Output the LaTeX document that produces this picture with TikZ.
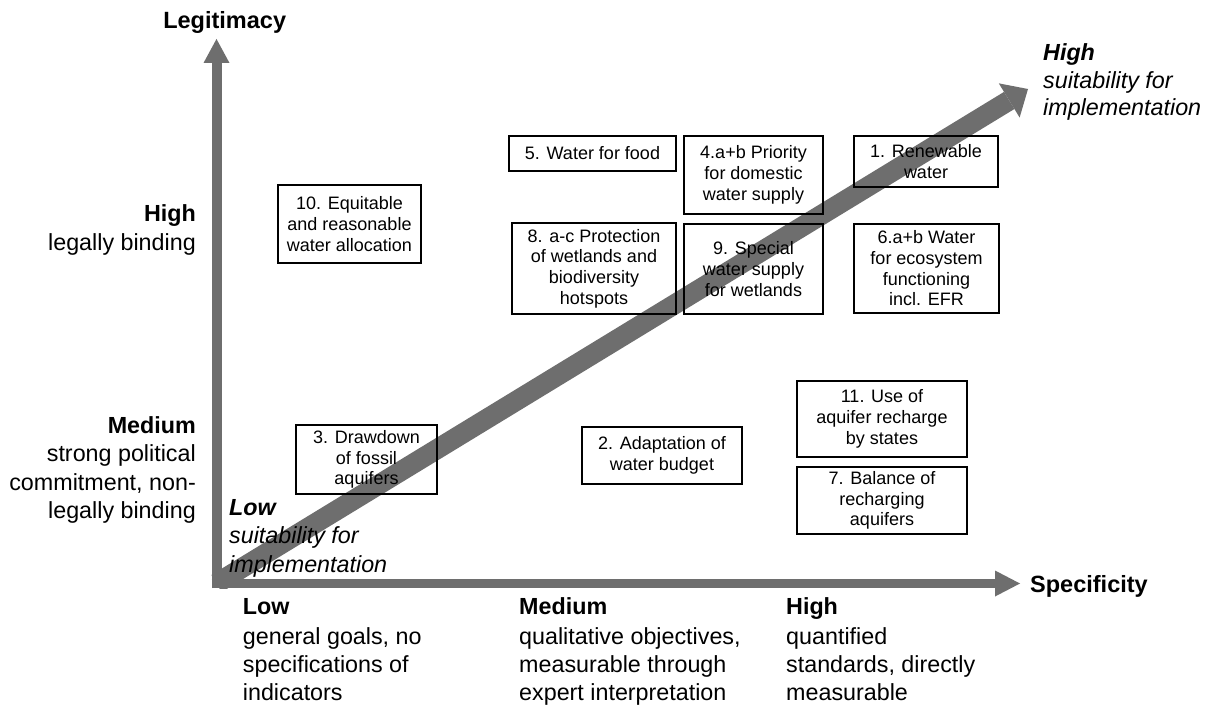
\documentclass[tikz,border=0pt]{standalone}
\usepackage{fontspec}
\setmainfont{Liberation Sans}
\usetikzlibrary{arrows.meta}
\definecolor{axgray}{RGB}{110,110,110}
\begin{document}
\begin{tikzpicture}[x=1pt,y=-1pt,
  lab/.style={inner sep=0pt, font=\fontsize{23.3}{28}\selectfont},
  labB/.style={inner sep=0pt, font=\fontsize{23.3}{28}\selectfont\bfseries},
  labI/.style={inner sep=0pt, font=\fontsize{23.3}{28}\selectfont\itshape},
  labBI/.style={inner sep=0pt, font=\fontsize{23.3}{28}\selectfont\bfseries\itshape},
  title/.style={inner sep=0pt, font=\fontsize{23.5}{28}\selectfont\bfseries},
  box/.style={draw=black, line width=1.4pt, inner sep=0pt, align=center,
    font=\fontsize{18}{20.7}\selectfont},
  axisline/.style={draw=axgray, line cap=butt}]
\fill[white] (0,0) rectangle (1221,706);
\useasboundingbox (0,0) rectangle (1221,706);

% axis coordinates
\coordinate (O) at (216.5,583.5);
\coordinate (Obot) at (216.5,588);
\coordinate (Oleft) at (211.5,583.5);
\coordinate (Ytip) at (216.5,39);
\coordinate (Xtip) at (1020,583.5);
\coordinate (Dtip) at (1028,89);

% diagonal arrow
\begin{scope}
\clip (211.5,0) rectangle (1221,588);
\draw[axisline, line width=20pt, -{Triangle[length=22pt,width=40pt,line width=0pt]}] (O) -- (Dtip);
\end{scope}

% axes
\draw[axisline, line width=10pt, -{Triangle[length=24pt,width=26pt,line width=0pt]}] (Obot) -- (Ytip);
\draw[axisline, line width=9pt, -{Triangle[length=25pt,width=26pt,line width=0pt]}] (Oleft) -- (Xtip);

% axis titles
\node[title, anchor=base] (legit) at (224.7,28.3) {Legitimacy};
\node[title, anchor=base west] (spec) at (1030,592.7) {Specificity};

% left labels
\node[labB, anchor=base east] (lHigh) at (196,221.7) {High};
\node[lab, anchor=base east] (lHigh1) at (196,250) {legally binding};
\node[labB, anchor=base east] (lMed) at (196,433.3) {Medium};
\node[lab, anchor=base east] (lMed1) at (196,461.7) {strong political};
\node[lab, anchor=base east] (lMed2) at (196,490) {commitment, non-};
\node[lab, anchor=base east] (lMed3) at (196,518.3) {legally binding};

% bottom labels
\node[labB, anchor=base west] (bLow) at (242.7,614.5) {Low};
\node[lab, anchor=base west] (bLow1) at (242.7,644) {general goals, no};
\node[lab, anchor=base west] (bLow2) at (242.7,672) {specifications of};
\node[lab, anchor=base west] (bLow3) at (242.7,700.3) {indicators};
\node[labB, anchor=base west] (bMed) at (519,614.5) {Medium};
\node[lab, anchor=base west] (bMed1) at (519,644) {qualitative objectives,};
\node[lab, anchor=base west] (bMed2) at (519,672) {measurable through};
\node[lab, anchor=base west] (bMed3) at (519,700.3) {expert interpretation};
\node[labB, anchor=base west] (bHigh) at (786,614.5) {High};
\node[lab, anchor=base west] (bHigh1) at (786,644) {quantified};
\node[lab, anchor=base west] (bHigh2) at (786,672) {standards, directly};
\node[lab, anchor=base west] (bHigh3) at (786,700.3) {measurable};

% diagonal labels
\node[labBI, anchor=base west] (dLow) at (229,515) {Low};
\node[labI, anchor=base west] (dLow1) at (229,543.5) {suitability for};
\node[labI, anchor=base west] (dLow2) at (229,572) {implementation};
\node[labBI, anchor=base west] (dHigh) at (1043,60.7) {High};
\node[labI, anchor=base west] (dHigh1) at (1043,88.5) {suitability for};
\node[labI, anchor=base west] (dHigh2) at (1043,116) {implementation};

% boxes
\node[box, minimum width=143pt, minimum height=78pt] (b10) at (349.5,224) {10. Equitable\\and reasonable\\water allocation};
\node[box, minimum width=167pt, minimum height=35pt] (b5) at (592.5,153.5) {5. Water for food};
\node[box, minimum width=139pt, minimum height=78pt] (b4) at (753.5,175) {4.a+b Priority\\for domestic\\water supply};
\node[box, minimum width=144pt, minimum height=51pt] (b1) at (926,161.5) {1. Renewable\\water};
\node[box, minimum width=164pt, minimum height=91pt] (b8) at (594,268.5) {8. a-c Protection\\of wetlands and\\biodiversity\\hotspots};
\node[box, minimum width=139pt, minimum height=90pt] (b9) at (753.5,269) {9. Special\\water supply\\for wetlands};
\node[box, minimum width=145pt, minimum height=89pt] (b6) at (926.5,268.5) {6.a+b Water\\for ecosystem\\functioning\\incl. EFR};
\node[box, minimum width=141pt, minimum height=69pt] (b3) at (366.5,459.5) {3. Drawdown\\of fossil\\aquifers};
\node[box, minimum width=160pt, minimum height=57pt] (b2) at (662,455.5) {2. Adaptation of\\water budget};
\node[box, minimum width=170pt, minimum height=76pt] (b11) at (882,419) {11. Use of\\aquifer recharge\\by states};
\node[box, minimum width=170pt, minimum height=67pt] (b7) at (882,500.5) {7. Balance of\\recharging\\aquifers};
\end{tikzpicture}
\end{document}
